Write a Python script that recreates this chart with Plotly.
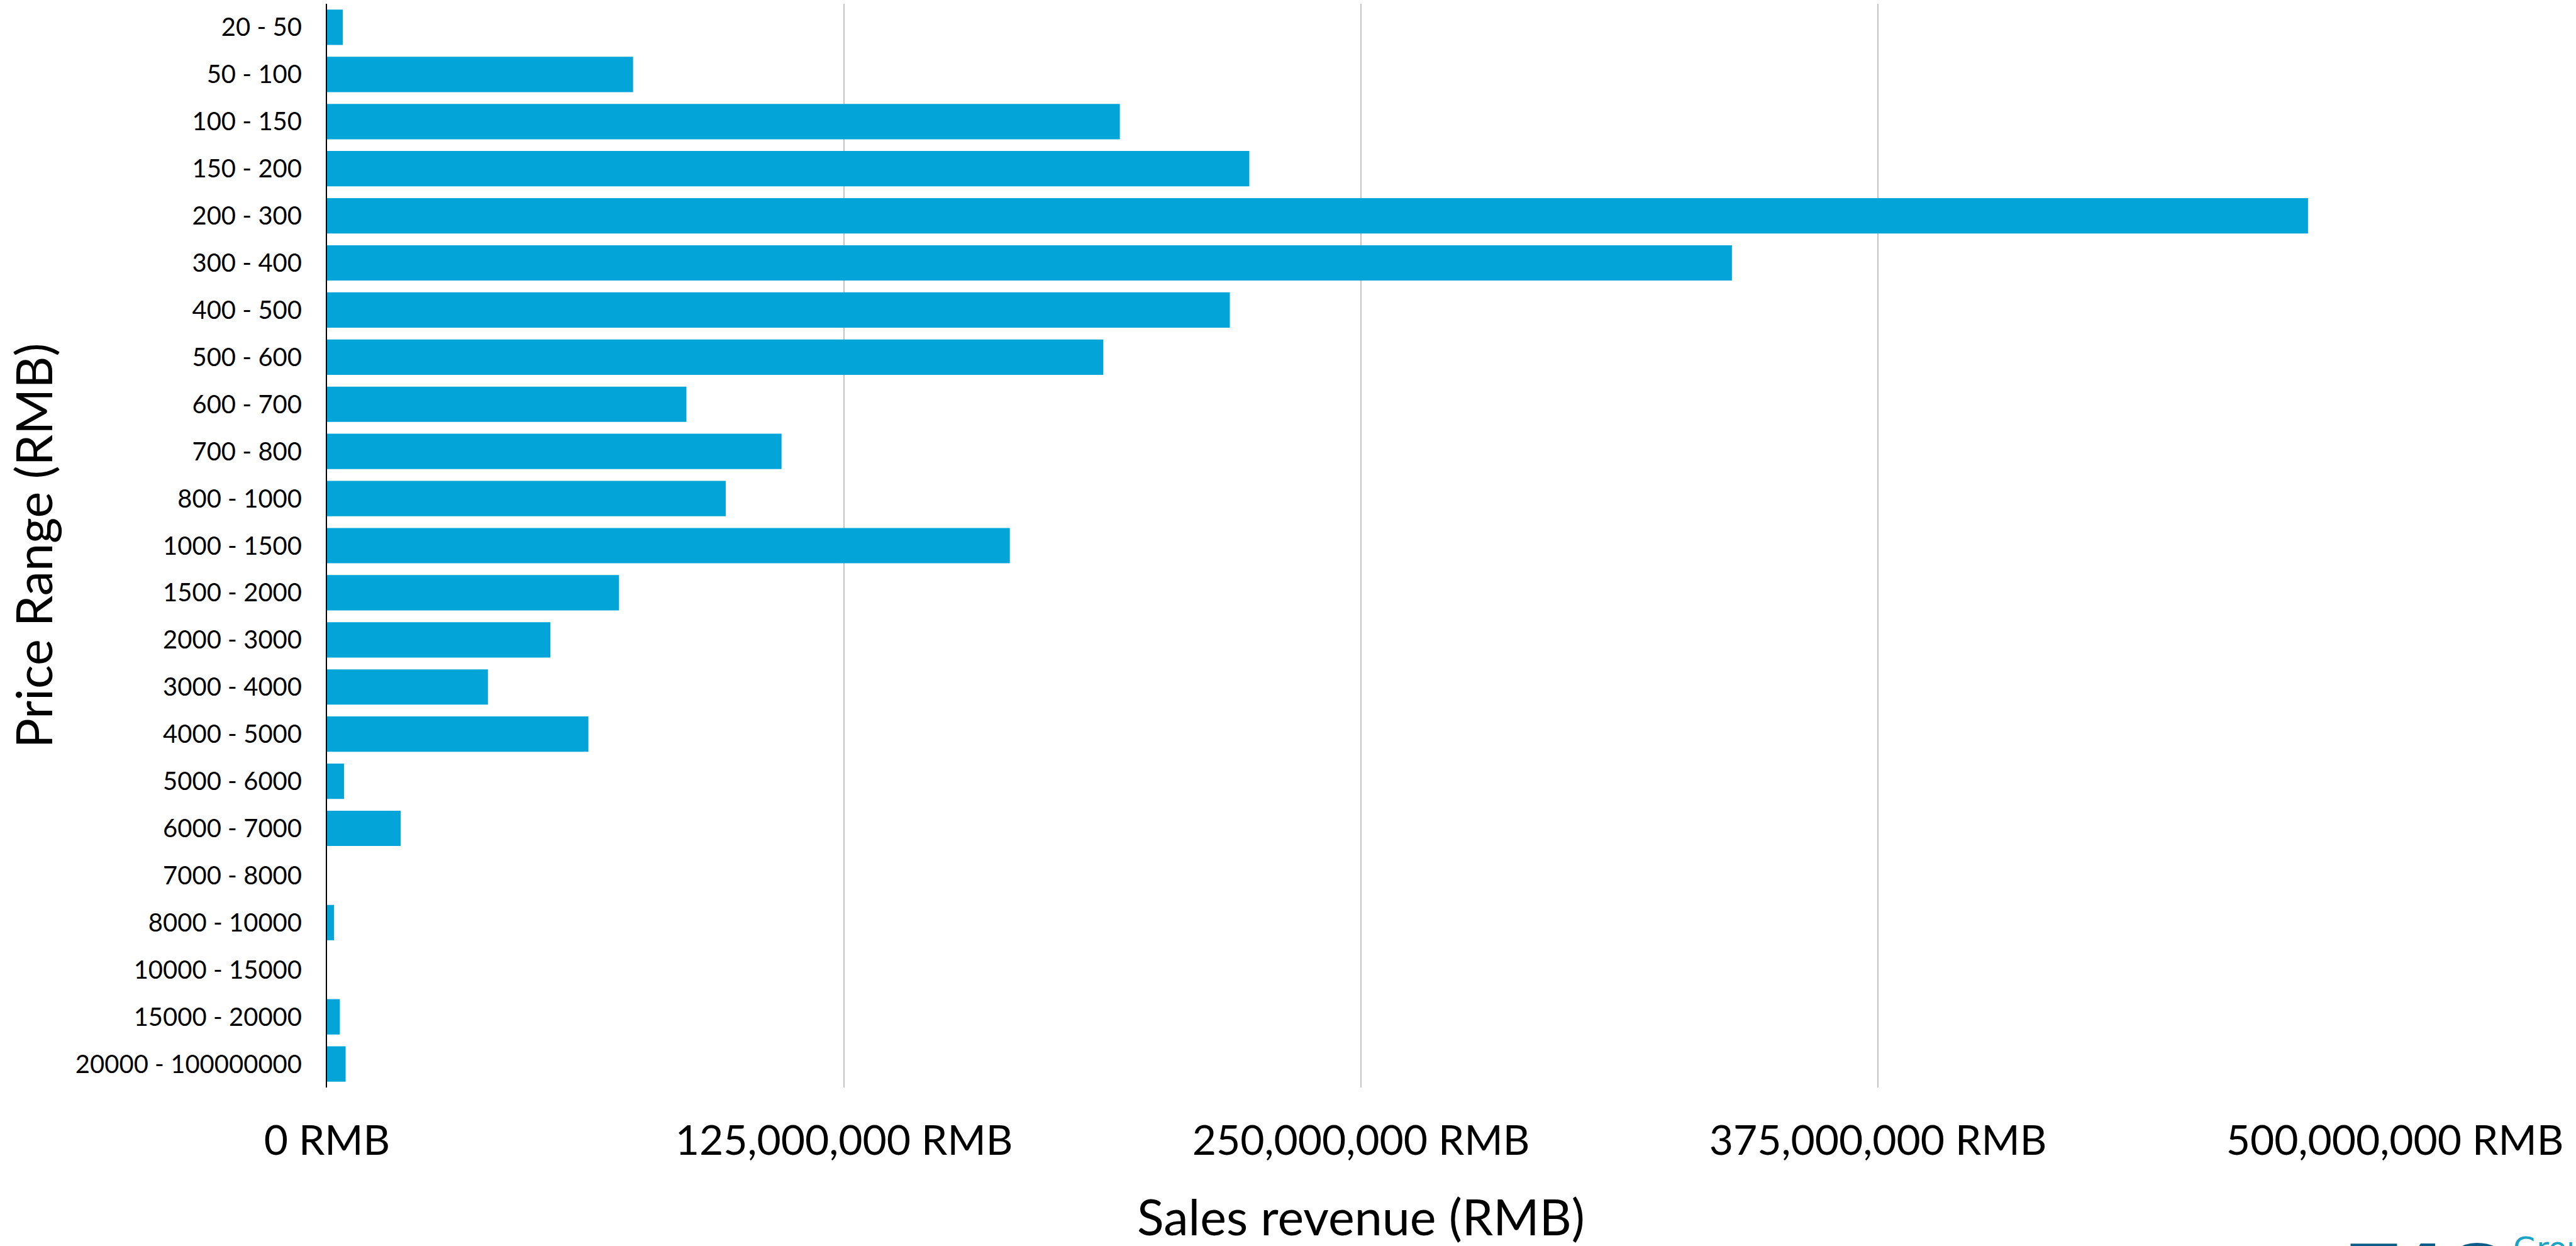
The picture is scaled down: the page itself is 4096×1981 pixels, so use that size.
import plotly.graph_objects as go

categories = ["20 - 50", "50 - 100", "100 - 150", "150 - 200", "200 - 300", "300 - 400",
              "400 - 500", "500 - 600", "600 - 700", "700 - 800", "800 - 1000",
              "1000 - 1500", "1500 - 2000", "2000 - 3000", "3000 - 4000", "4000 - 5000",
              "5000 - 6000", "6000 - 7000", "7000 - 8000", "8000 - 10000",
              "10000 - 15000", "15000 - 20000", "20000 - 100000000"]
revenue = [3.8e6, 74.0e6, 191.7e6, 223.0e6, 479.0e6, 339.7e6,
           218.3e6, 187.7e6, 86.9e6, 109.9e6, 96.4e6,
           165.1e6, 70.6e6, 54.0e6, 38.9e6, 63.2e6,
           4.1e6, 17.8e6, 0.0, 1.7e6,
           0.0, 3.1e6, 4.5e6]
tick_vals = [0, 125e6, 250e6, 375e6, 500e6]
tick_text = ["0 RMB", "125,000,000 RMB", "250,000,000 RMB", "375,000,000 RMB", "500,000,000 RMB"]

FONT = "Lato"
fig = go.Figure(go.Bar(
    x=revenue, y=categories, orientation="h",
    marker=dict(color="#03a4d8", line=dict(width=0)),
))

fig.update_layout(
    width=4096, height=1981,
    margin=dict(l=520, r=288, t=6, b=252),
    paper_bgcolor="white", plot_bgcolor="white",
    bargap=0.25, showlegend=False,
    font=dict(family=FONT, color="black"),
)
fig.update_xaxes(
    range=[0, 500e6], tickvals=tick_vals, ticktext=tick_text,
    tickfont=dict(size=66, family=FONT, color="black"),
    showgrid=True, gridcolor="#c4c4c4", gridwidth=2,
    zeroline=False, showline=False, ticks="", ticklabelstandoff=40,
)
fig.update_yaxes(
    categoryorder="array", categoryarray=categories, autorange="reversed",
    tickfont=dict(size=40, family=FONT, color="black"),
    showgrid=False, zeroline=False, showline=True, linecolor="black", linewidth=2,
    ticks="", ticklabelstandoff=30,
)

fig.add_annotation(text="Sales revenue (RMB)", xref="paper", yref="paper",
                   x=0.5, y=0, yshift=-204, xanchor="center", yanchor="middle",
                   showarrow=False, font=dict(size=79, family=FONT, color="black"))
fig.add_annotation(text="Price Range (RMB)", xref="paper", yref="paper",
                   x=0, y=0.5, xshift=-468, xanchor="center", yanchor="middle",
                   textangle=-90, showarrow=False,
                   font=dict(size=79, family=FONT, color="black"))
# partially visible logo at bottom right
fig.add_annotation(text="<b>T4G</b>", xref="paper", yref="paper",
                   x=1, y=0, xshift=-73, yshift=-225, xanchor="left", yanchor="top",
                   showarrow=False, font=dict(size=110, family="DejaVu Sans", color="#0b5c88"))
fig.add_annotation(text="Group", xref="paper", yref="paper",
                   x=1, y=0, xshift=186, yshift=-225, xanchor="left", yanchor="top",
                   showarrow=False, font=dict(size=48, family="DejaVu Sans", color="#1aa3c4"))

fig.write_html("out.html")
